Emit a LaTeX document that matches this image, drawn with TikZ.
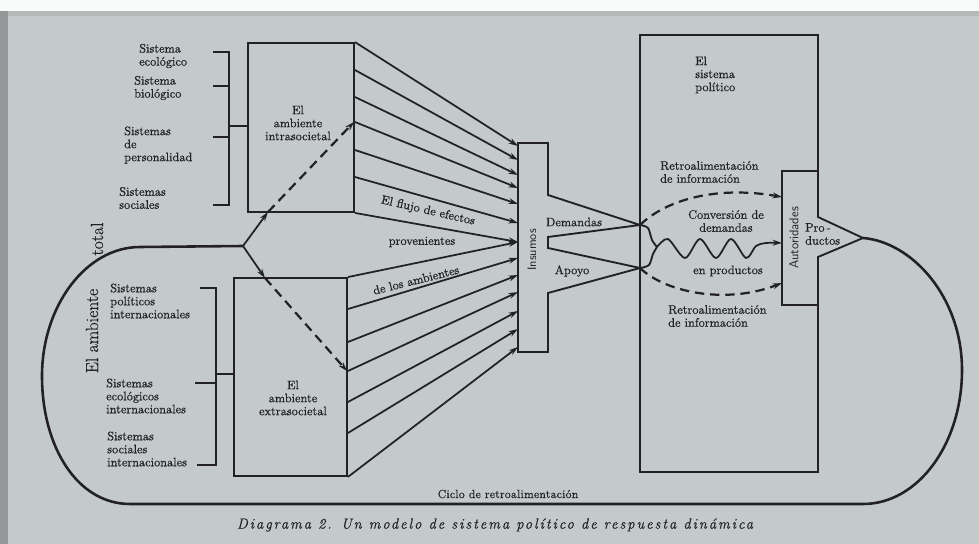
\documentclass[tikz,border=0pt]{standalone}
\usepackage{fontspec}
\setmainfont{Latin Modern Roman}[FakeBold=0.5]
\usepackage{tikz}
\usetikzlibrary{arrows.meta}

\definecolor{paper}{RGB}{196,201,202}
\definecolor{ink}{RGB}{34,34,36}

\begin{document}
\begin{tikzpicture}[x=0.03cm,y=-0.03cm,
  every node/.style={font=\fontsize{10.5}{11.1}\selectfont, text=ink},
  box/.style={draw=ink, line width=1.6pt, inner sep=0pt},
  lbl/.style={align=left, anchor=west, inner sep=0pt},
  ln/.style={draw=ink, line width=1.6pt},
  arr/.style={draw=ink, line width=1.5pt, -{Stealth[length=8pt,width=5pt]}},
  dsh/.style={line width=1.9pt, dash pattern=on 8pt off 5pt},
  brk/.style={draw=ink, line width=2.2pt},
  ring/.style={draw=ink, line width=2.2pt}]

\useasboundingbox (0,0) rectangle (979,544);
\fill[paper] (0,0) rectangle (979,544);
\fill[white!90!paper] (0,0) rectangle (979,11);
\fill[paper!92!black] (0,11) rectangle (979,16);
\fill[paper!75!black] (0,11) rectangle (8,544);

\node[lbl] (s1) at (139,56) {Sistema\\ecológico};
\node[lbl] (s2) at (134,88) {Sistema\\biológico};
\node[lbl] (s3) at (124,145) {Sistemas\\de\\personalidad};
\node[lbl] (s4) at (119,198) {Sistemas\\sociales};
\node[lbl] (s5) at (110,301) {Sistemas\\políticos\\internacionales};
\node[lbl] (s6) at (106,396) {Sistemas\\ecológicos\\internacionales};
\node[lbl] (s7) at (107,449) {Sistemas\\sociales\\internacionales};

\node[box, minimum width=3.18cm, minimum height=5.07cm] (a1) at (301,127.5) {};
\node[box, minimum width=3.39cm, minimum height=5.94cm] (a2) at (290.5,377) {};
\node[align=center] (t1) at (298,123) {El\\ambiente\\intrasocietal};
\node[align=center] (t2) at (293,398) {El\\ambiente\\extrasocietal};

\draw[brk] (213,52) -- (229,52) -- (229,205) -- (213,205);
\draw[brk] (213,86) -- (229,86);
\draw[brk] (213,137) -- (229,137);
\coordinate (k1) at (229,126);
\draw[ln] (k1) -- (k1 -| a1.west);
\draw[brk] (200,288) -- (216,288) -- (216,465) -- (197,465);
\draw[brk] (195,383) -- (216,383);
\coordinate (k2) at (216,374);
\draw[ln] (k2) -- (k2 -| a2.west);

\node[rotate=90, font=\fontsize{15}{18}\selectfont] (t3) at (92,331) {El ambiente};
\node[rotate=90, font=\fontsize{15}{18}\selectfont] (t4) at (97,239) {total};

\coordinate (br) at (243,246);
\coordinate (tip) at (863,238);
\draw[ring] (tip) .. controls (912,242) and (962,297) .. (962,370)
  .. controls (962,444) and (918,504) .. (863,504) -- (130,504)
  .. controls (78,504) and (42,448) .. (42,376)
  .. controls (42,306) and (86,247) .. (140,247) -- (br);

\coordinate (d1) at (268,212);
\coordinate (d2) at (354,122);
\coordinate (d3) at (265,278);
\coordinate (d4) at (347,371);
\draw[arr] (br) -- (d1);
\draw[arr, dsh] (d1) -- (d2);
\draw[arr] (br) -- (d3);
\draw[arr, dsh] (d3) -- (d4);

\coordinate (in) at (518,250);
\coordinate (dm) at (640,225);
\coordinate (ap) at (640,268);
\draw[ln] (518,143) -- (548,143) -- (548,195) -- (dm) -- (548,237) -- (548,248)
  -- (ap) -- (548,293) -- (548,352) -- (518,352) -- cycle;
\node[rotate=90, font=\fontsize{10.5}{12}\sffamily] (ins) at (532,250) {Insumos};
\node (de) at (574,222) {Demandas};
\node (apo) at (572,271) {Apoyo};

\draw[arr] (a1.north east) -- (in |- 0,146);
\draw[arr] (a1.east |- 0,70) -- (in |- 0,160);
\draw[arr] (a1.east |- 0,97) -- (in |- 0,175);
\draw[arr] (a1.east |- 0,122) -- (in |- 0,188);
\draw[arr] (a1.east |- 0,150) -- (in |- 0,204);
\draw[arr] (a1.east |- 0,177) -- (in |- 0,223);
\draw[arr] (a1.south east) -- (in |- 0,242);
\draw[arr] (a2.north east) -- (in |- 0,242);
\draw[arr] (a2.east |- 0,309) -- (in |- 0,258);
\draw[arr] (a2.east |- 0,342) -- (in |- 0,275);
\draw[arr] (a2.east |- 0,371) -- (in |- 0,292);
\draw[arr] (a2.east |- 0,402) -- (in |- 0,311);
\draw[arr] (a2.east |- 0,433) -- (in |- 0,329);
\draw[arr] (a2.south east) -- (in |- 0,347);

\node[rotate=-13] (l1) at (428,211) {El flujo de efectos};
\node (l2) at (422,242) {provenientes};
\node[rotate=14] (l3) at (416,280) {de los ambientes};

\draw[ln] (640,35) -- (818,35) -- (818,217) -- (tip) -- (818,257) -- (818,472)
  -- (640,472) -- cycle;
\draw[ln] (818,171) -- (782,171) -- (782,305) -- (818,305);
\node[rotate=90, font=\fontsize{11}{12}\sffamily] (au) at (794,238) {Autoridades};
\node[lbl] (pr) at (805,234) {Pro\,-\\ductos};

\node[lbl] (p1) at (695,75) {El\\sistema\\político};
\node[lbl] (r1) at (660,172) {Retroalimentación\\de información};
\node[lbl] (r2) at (668,316) {Retroalimentación\\de información};
\node[align=center] (c1) at (726,221) {Conversión de\\demandas};
\node (c2) at (728,271) {en productos};

\coordinate (f1) at (782,197);
\coordinate (f2) at (782,283);
\coordinate (f3) at (782,243);
\coordinate (jn) at (657,247);
\draw[arr, dsh] (dm) .. controls (668,198) and (720,186) .. (f1);
\draw[arr, dsh] (ap) .. controls (665,292) and (725,305) .. (f2);
\draw[ln] plot[smooth] coordinates {(dm) (648,228) (652,240) (jn)};
\draw[ln] plot[smooth] coordinates {(ap) (649,265) (653,254) (jn)};
\draw[arr] plot[smooth] coordinates {(jn) (668,239) (685,258) (700,239) (716,258)
  (731,239) (746,258) (756,246) (766,243) (f3)};

\node[font=\fontsize{10}{12}\selectfont\addfontfeatures{LetterSpace=2}] (cy) at (508,494) {Ciclo de retroalimentación};
\node[font=\fontsize{12.5}{14}\selectfont\itshape\addfontfeatures{LetterSpace=13}] (tt) at (495,525) {Diagrama 2. Un modelo de sistema político de respuesta dinámica};

\end{tikzpicture}
\end{document}
